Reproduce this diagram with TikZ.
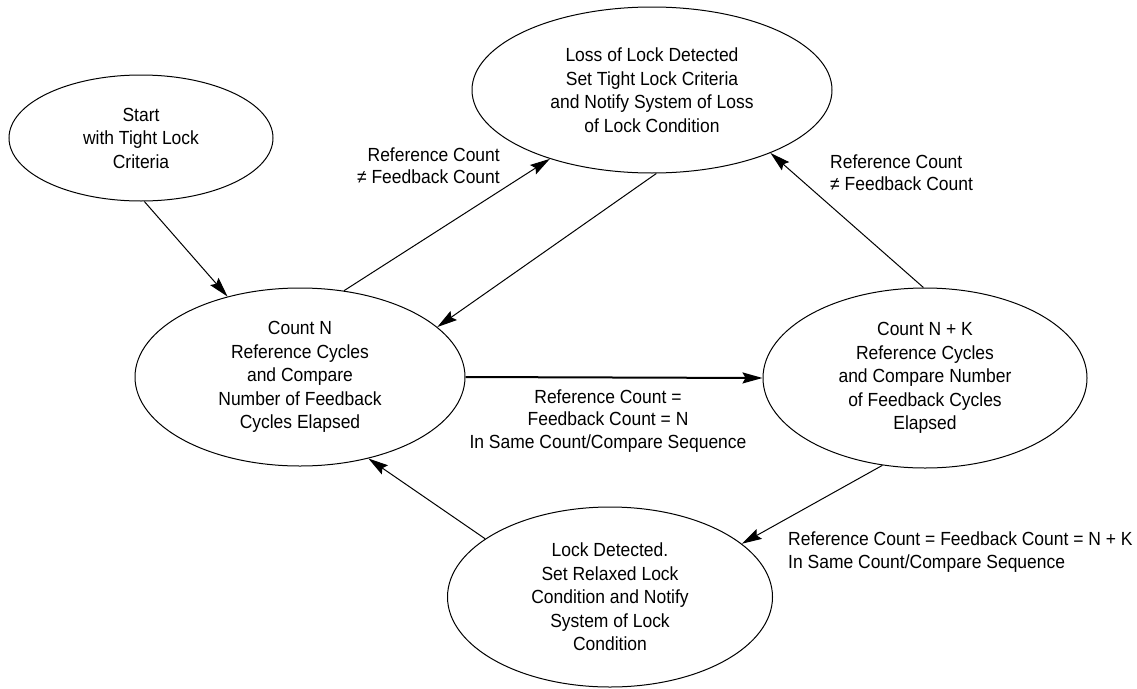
\documentclass[tikz,border=0pt]{standalone}
\usepackage{fontspec}
\setmainfont{Liberation Sans}[FakeStretch=0.92]
\usetikzlibrary{shapes.geometric,arrows.meta}
\begin{document}
\begin{tikzpicture}[x=1pt,y=-1pt,
  state/.style={ellipse,draw,line width=1pt,inner sep=0pt,align=center,
    font=\fontsize{19}{23.5}\selectfont},
  lbl/.style={inner sep=0pt,font=\fontsize{19}{22.5}\selectfont},
  conn/.style={line width=1pt,-{Stealth[length=20pt,width=11pt,inset=3pt]}},
  thickconn/.style={line width=2pt,-{Stealth[length=20pt,width=11pt,inset=3pt]}}]
\useasboundingbox (0,0) rectangle (1137,688);
\node[state,minimum width=264pt,minimum height=126pt] (start) at (141,138)
  {Start\\with Tight Lock\\Criteria};
\node[state,minimum width=360pt,minimum height=166pt] (loss) at (652,90)
  {Loss of Lock Detected\\Set Tight Lock Criteria\\and Notify System of Loss\\of Lock Condition};
\node[state,minimum width=330pt,minimum height=178pt] (cn) at (300,377)
  {Count N\\Reference Cycles\\and Compare\\Number of Feedback\\Cycles Elapsed};
\node[state,minimum width=324pt,minimum height=180pt] (cnk) at (925,378)
  {Count N + K\\Reference Cycles\\and Compare Number\\of Feedback Cycles\\Elapsed};
\node[state,minimum width=325pt,minimum height=180pt] (lock) at (610,597)
  {Lock Detected.\\Set Relaxed Lock\\Condition and Notify\\System of Lock\\Condition};

\draw[conn] (start.-87) -- (cn.132);
\draw[conn] (cn.63) -- (loss.-146);
\draw[conn] (loss.-87) -- (cn.20);
\draw[thickconn] (cn.east) -- (cnk.west);
\draw[conn] (cnk.91) -- (loss.-28);
\draw[conn] (cnk.-116) -- (lock.22);
\draw[conn] (lock.155) -- (cn.-50);

\node[lbl,align=right,anchor=east] (l1) at (500,165.5) {Reference Count\\≠ Feedback Count};
\node[lbl,align=left,anchor=west] (l2) at (830,172.5) {Reference Count\\≠ Feedback Count};
\node[lbl,align=center] (l3) at (608,421) {Reference Count =\\Feedback Count = N\\In Same Count/Compare Sequence};
\node[lbl,align=left,anchor=west] (l4) at (788,552) {Reference Count = Feedback Count = N + K\\In Same Count/Compare Sequence};
\end{tikzpicture}
\end{document}
